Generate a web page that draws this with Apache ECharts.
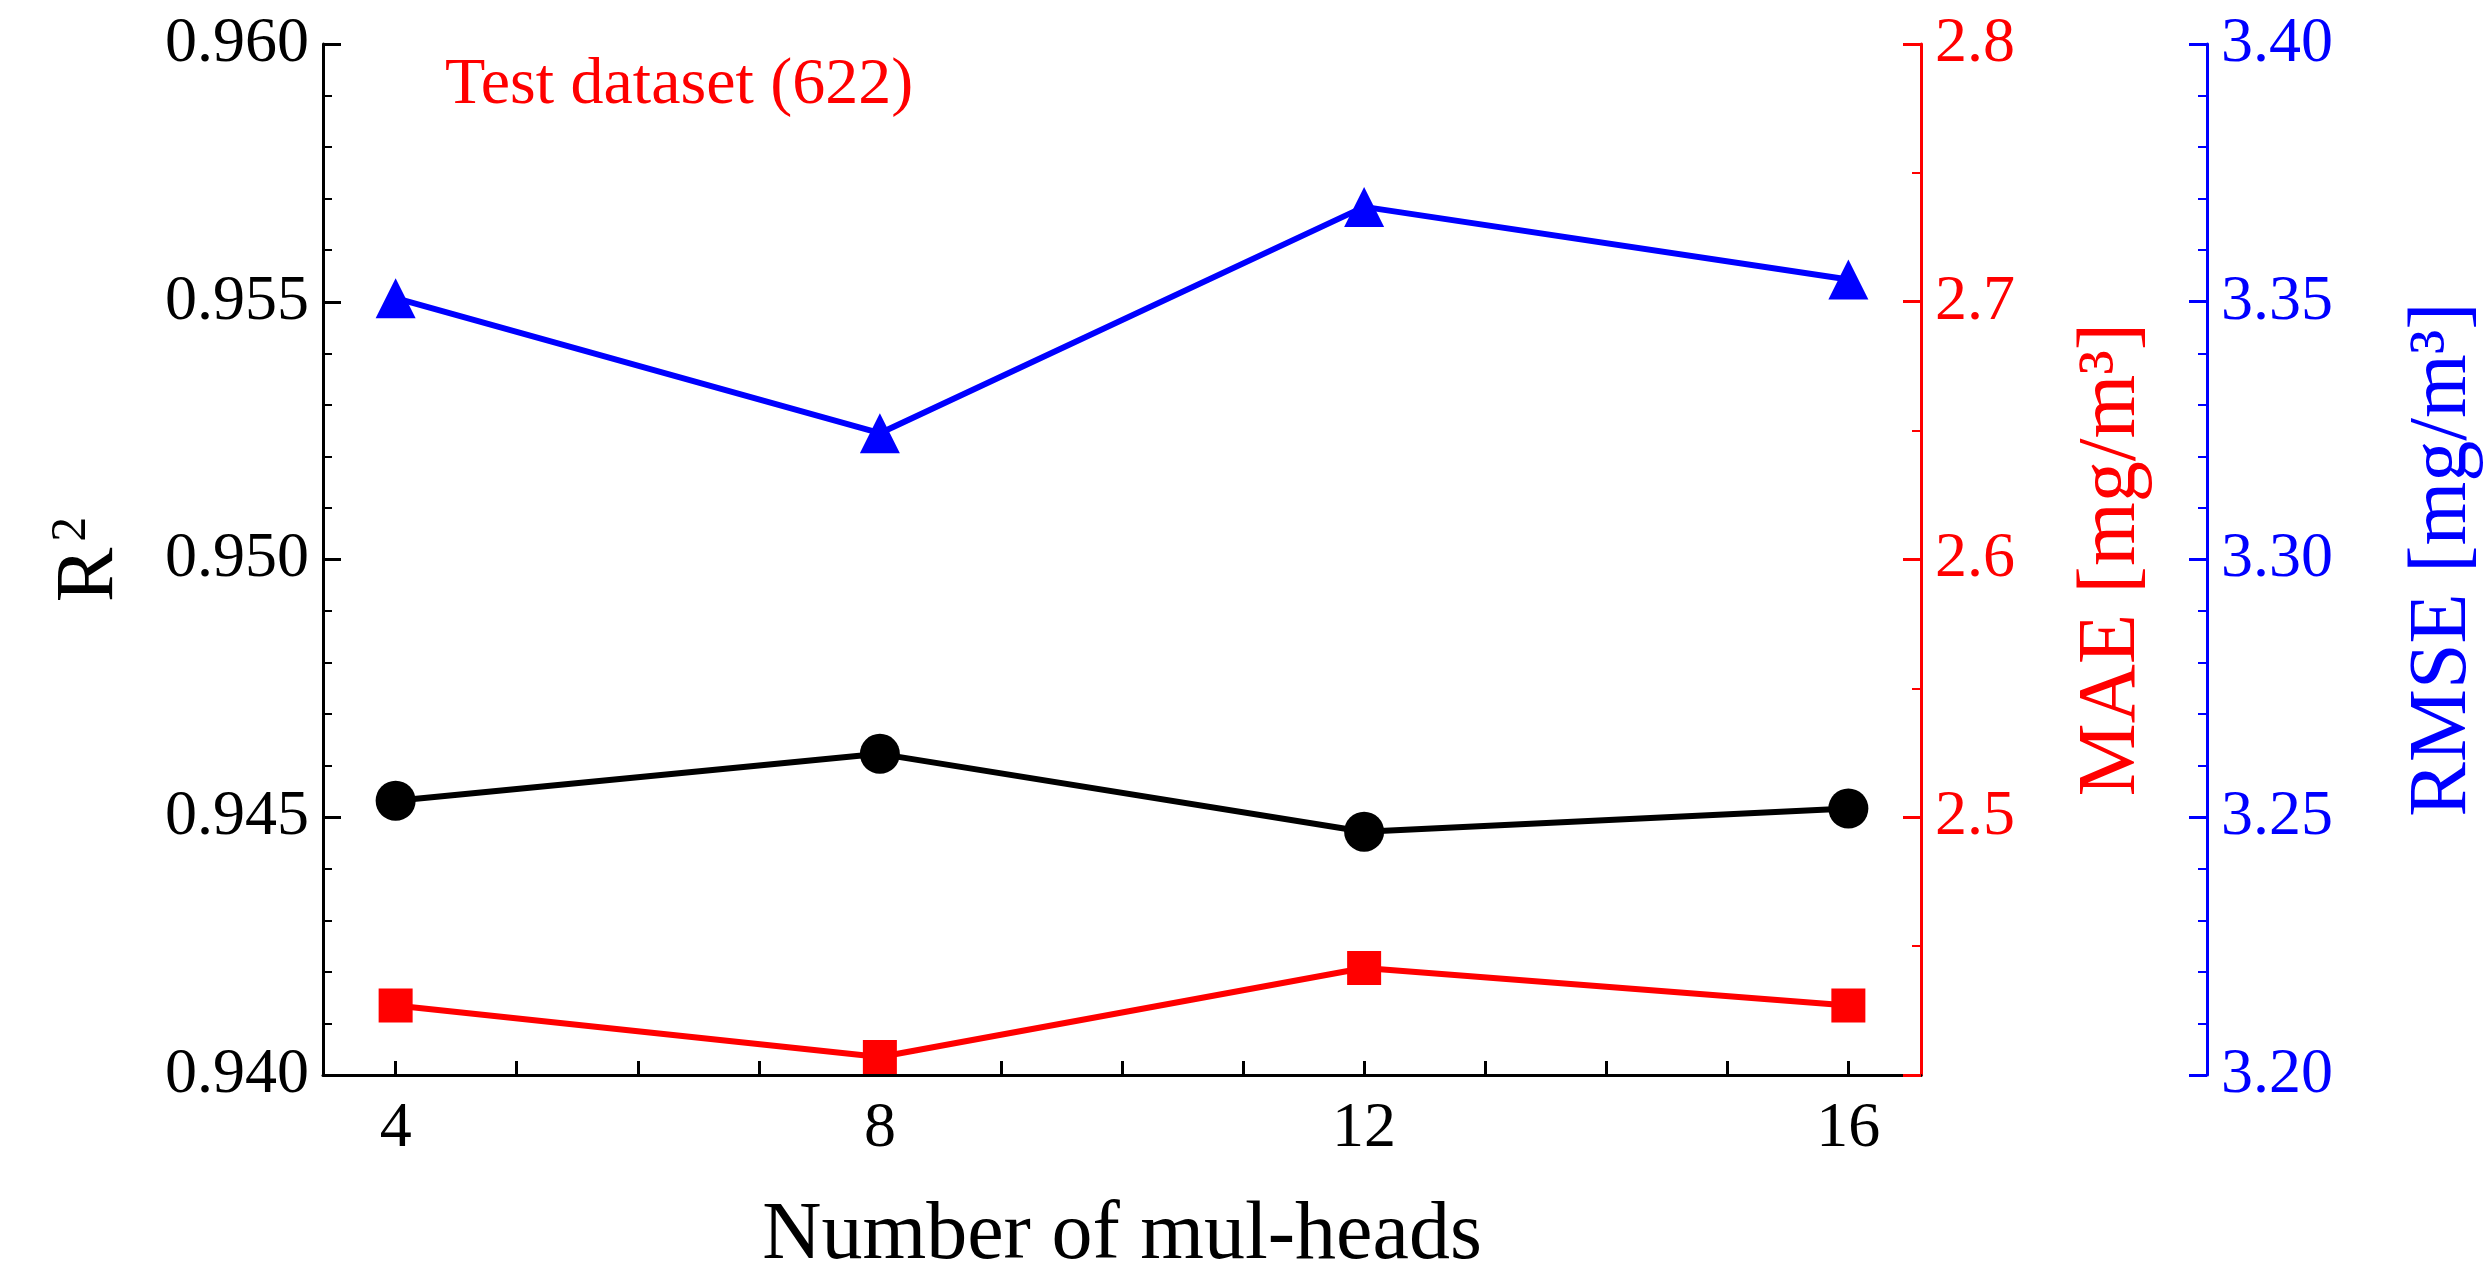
<!DOCTYPE html>
<html>
<head>
<meta charset="utf-8">
<script src="https://cdn.jsdelivr.net/npm/echarts@6/dist/echarts.min.js"></script>
<style>html,body{margin:0;padding:0;background:#fff}#chart{width:2492px;height:1282px}</style>
</head>
<body>
<div id="chart"></div>
<script>
var heads = [4, 8, 12, 16];
var r2 = [0.94532, 0.94623, 0.94472, 0.94517];
var mae = [2.427, 2.407, 2.4415, 2.427];
var rmse = [3.3507, 3.3245, 3.3684, 3.3543];
var xTicks = [4, 5, 6, 7, 8, 9, 10, 11, 12, 13, 14, 15, 16];

var font = 'Liberation Serif';
function pairs(v) { return heads.map(function (h, i) { return [h, v[i]]; }); }
function yAxis(color, min, max, step, name, pos, offset, digits, minor, hideMin, gap) {
    return {
        type: 'value', position: pos, offset: offset, min: min, max: max, interval: step,
        name: name, nameLocation: 'middle', nameRotate: 90, nameGap: gap,
        nameTextStyle: { color: color, fontFamily: font, fontSize: 82,
            rich: { sup: { fontSize: 50, verticalAlign: 'top', padding: [0, 0, 36, 6], fontFamily: font, color: color } } },
        axisLine: { show: true, lineStyle: { color: color, width: 3 } },
        axisTick: { show: true, inside: true, length: 18, lineStyle: { width: 3, color: color } },
        minorTick: { show: true, splitNumber: minor, length: 9, lineStyle: { width: 2, color: color } },
        splitLine: { show: false },
        axisLabel: { color: color, fontFamily: font, fontSize: 64, margin: 14,
            formatter: function (v) { if (hideMin && Math.abs(v - min) < 1e-9) return ''; return v.toFixed(digits); } }
    };
}
var chart = echarts.init(document.getElementById('chart'));
chart.setOption({
    animation: false,
    grid: { left: 323, right: 569, top: 44, bottom: 181 },
    title: { text: 'Test dataset (622)', left: 440, top: 48,
        textStyle: { color: '#ff0000', fontFamily: font, fontSize: 66, fontWeight: 'normal' } },
    xAxis: {
        type: 'value', min: 3.4, max: 16.6, name: 'Number of mul-heads', nameLocation: 'middle', nameGap: 120,
        nameTextStyle: { color: '#000', fontFamily: font, fontSize: 82 },
        axisLine: { lineStyle: { color: '#000', width: 3 } },
        axisTick: { inside: true, length: 14, lineStyle: { width: 3 }, customValues: xTicks },
        minorTick: { show: false },
        axisLabel: { color: '#000', fontFamily: font, fontSize: 64, margin: 22, customValues: heads },
        splitLine: { show: false }
    },
    yAxis: [
        yAxis('#000', 0.940, 0.960, 0.005, 'R{sup|2}', 'left', 0, 3, 5, false, 190),
        yAxis('#ff0000', 2.4, 2.8, 0.1, 'MAE [mg/m³]', 'right', 0, 1, 2, true, 150),
        yAxis('#0000ff', 3.20, 3.40, 0.05, 'RMSE [mg/m³]', 'right', 286, 2, 5, false, 195)
    ],
    series: [
        { type: 'line', yAxisIndex: 0, data: pairs(r2), symbol: 'circle', symbolSize: 40,
          itemStyle: { color: '#000' }, lineStyle: { color: '#000', width: 6 } },
        { type: 'line', yAxisIndex: 1, data: pairs(mae), symbol: 'rect', symbolSize: 34,
          itemStyle: { color: '#ff0000' }, lineStyle: { color: '#ff0000', width: 6 } },
        { type: 'line', yAxisIndex: 2, data: pairs(rmse), symbol: 'triangle', symbolSize: 40,
          itemStyle: { color: '#0000ff' }, lineStyle: { color: '#0000ff', width: 6 } }
    ]
});
</script>
</body>
</html>
